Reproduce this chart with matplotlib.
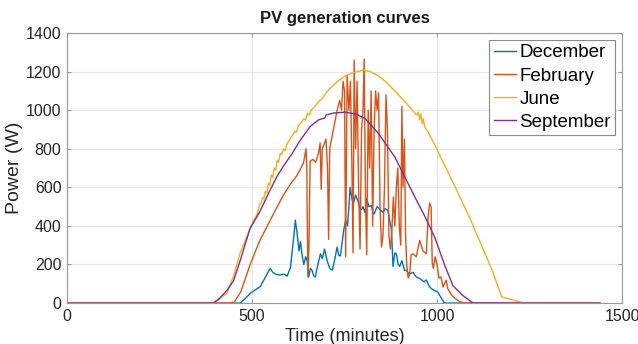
import matplotlib.pyplot as plt

plt.rcParams["font.family"] = ["Liberation Sans", "DejaVu Sans"]

# December (minutes, W)
dec_t = [0, 468, 480, 495, 510, 522, 535, 549, 556, 563, 575, 585, 595, 604, 608, 613, 617, 622,
         627, 631, 635, 640, 645, 649, 653, 658, 662, 667, 671, 678, 685, 690, 696, 703, 710,
         717, 724, 730, 735, 739, 744, 748, 753, 758, 762, 765, 770, 774, 780, 787, 793, 800,
         805, 810, 816, 823, 828, 832, 838, 846, 854, 860, 867, 872, 877, 881, 886, 890, 895,
         899, 905, 912, 917, 925, 935, 944, 955, 965, 971, 978, 984, 993, 1002, 1010, 1020, 1440]
dec_p = [0, 0, 20, 50, 70, 85, 130, 180, 160, 150, 145, 150, 140, 185, 260, 345, 430, 360,
         270, 320, 250, 200, 240, 220, 135, 180, 170, 140, 135, 200, 255, 230, 280, 220, 180,
         170, 230, 290, 245, 245, 320, 380, 430, 400, 500, 600, 540, 515, 560, 525, 480, 500,
         470, 540, 500, 505, 460, 470, 500, 485, 470, 490, 480, 430, 380, 190, 260, 255, 200,
         190, 220, 170, 170, 150, 160, 135, 125, 110, 120, 90, 76, 65, 58, 30, 0, 0]

# February
feb_t = [0, 440, 452, 470, 495, 520, 540, 560, 585, 605, 621, 639, 646, 648, 651, 654, 657,
         665, 672, 680, 684, 687, 690, 700, 704, 707, 710, 720, 730, 737, 742, 746, 750, 753,
         757, 762, 766, 770, 773, 776, 780, 784, 788, 792, 796, 800, 803, 807, 810, 814, 818,
         822, 826, 830, 834, 838, 842, 846, 850, 854, 858, 862, 866, 870, 874, 878, 882, 886,
         890, 894, 898, 902, 905, 908, 912, 915, 918, 922, 926, 930, 935, 944, 953, 962, 971,
         976, 980, 984, 987, 990, 995, 1000, 1005, 1011, 1016, 1020, 1025, 1029, 1040, 1048,
         1060, 1075, 1440]
feb_p = [0, 0, 5, 60, 200, 320, 395, 470, 560, 620, 660, 725, 800, 700, 135, 300, 735,
         745, 730, 780, 830, 590, 800, 850, 700, 330, 800, 900, 1000, 1050, 1000, 1150, 1100, 240,
         1180, 1000, 1150, 700, 260, 1260, 800, 1150, 600, 280, 900, 1000, 1265, 500, 250, 1000, 700,
         1100, 400, 900, 1100, 1000, 1090, 500, 290, 350, 600, 1080, 900, 350, 280, 380, 550, 400,
         600, 700, 400, 300, 1020, 600, 850, 350, 200, 130, 150, 250, 255, 240, 325, 270, 255,
         450, 518, 500, 210, 180, 240, 200, 130, 135, 83, 100, 119, 75, 40, 26,
         8, 0, 0]

# June
jun_t = [0, 395, 410, 432, 450, 468, 495, 505, 510, 515, 520, 525, 528, 532, 536, 540, 544,
         548, 552, 556, 560, 564, 568, 572, 576, 580, 585, 590, 595, 600, 605, 610, 615, 620,
         625, 630, 640, 645, 650, 655, 660, 670, 680, 690, 700, 711, 720, 735, 756, 780, 800,
         820, 840, 860, 886, 922, 945, 950, 953, 956, 960, 963, 966, 975, 994, 1040, 1089, 1150,
         1175, 1235, 1440]
jun_p = [0, 0, 20, 50, 140, 260, 388, 430, 445, 470, 510, 520, 545, 540, 580, 570, 620,
         610, 665, 650, 700, 690, 740, 730, 775, 770, 800, 790, 830, 840, 860, 870, 890, 885,
         920, 930, 955, 950, 985, 975, 1000, 1020, 1045, 1060, 1090, 1113, 1130, 1155, 1182, 1198, 1207,
         1200, 1180, 1150, 1100, 1026, 975, 990, 950, 980, 930, 955, 915, 890, 820, 638, 439, 165,
         32, 0, 0]

# September
sep_t = [0, 395, 410, 432, 450, 468, 495, 520, 549, 567, 585, 610, 630, 657, 680, 697, 700,
         720, 751, 780, 805, 841, 886, 913, 940, 967, 994, 1020, 1043, 1069, 1094, 1100, 1440]
sep_p = [0, 0, 20, 65, 115, 220, 388, 470, 586, 655, 710, 780, 843, 915, 950, 960, 975,
         985, 990, 980, 958, 881, 757, 653, 550, 450, 340, 200, 90, 40, 5, 0, 0]

fig = plt.figure(figsize=(6.38, 3.44), dpi=100)
ax = fig.add_axes([0.105, 0.119, 0.870, 0.785])

ax.plot(dec_t, dec_p, color="#0072BD", lw=1.0, label="December")
ax.plot(feb_t, feb_p, color="#D95319", lw=1.0, label="February")
ax.plot(jun_t, jun_p, color="#EDB120", lw=1.0, label="June")
ax.plot(sep_t, sep_p, color="#7E2F8E", lw=1.0, label="September")

ax.set_xlim(0, 1500)
ax.set_ylim(0, 1400)
ax.set_xticks([0, 500, 1000, 1500])
ax.set_yticks(range(0, 1401, 200))
ax.grid(True, color="#e6e6e6", lw=0.8)
ax.set_axisbelow(True)
ax.tick_params(direction="in", length=3, top=True, right=True, labelsize=11.5,
               colors="#9a9a9a", labelcolor="#262626", pad=4)
for s in ax.spines.values():
    s.set_color("#9a9a9a")
    s.set_linewidth(0.8)

ax.set_title("PV generation curves", fontsize=12, fontweight="bold", color="#1a1a1a", pad=7)
ax.set_xlabel("Time (minutes)", fontsize=13, color="#262626", labelpad=3)
ax.set_ylabel("Power (W)", fontsize=14, color="#262626", labelpad=2)

leg = ax.legend(loc="upper right", fontsize=13.5, handlelength=1.2, handletextpad=0.15,
                labelspacing=0.32, borderpad=0.25, borderaxespad=0.35, fancybox=False,
                framealpha=1, edgecolor="#8a8a8a")
leg.get_frame().set_linewidth(0.8)

plt.savefig("out.png", dpi=100)
